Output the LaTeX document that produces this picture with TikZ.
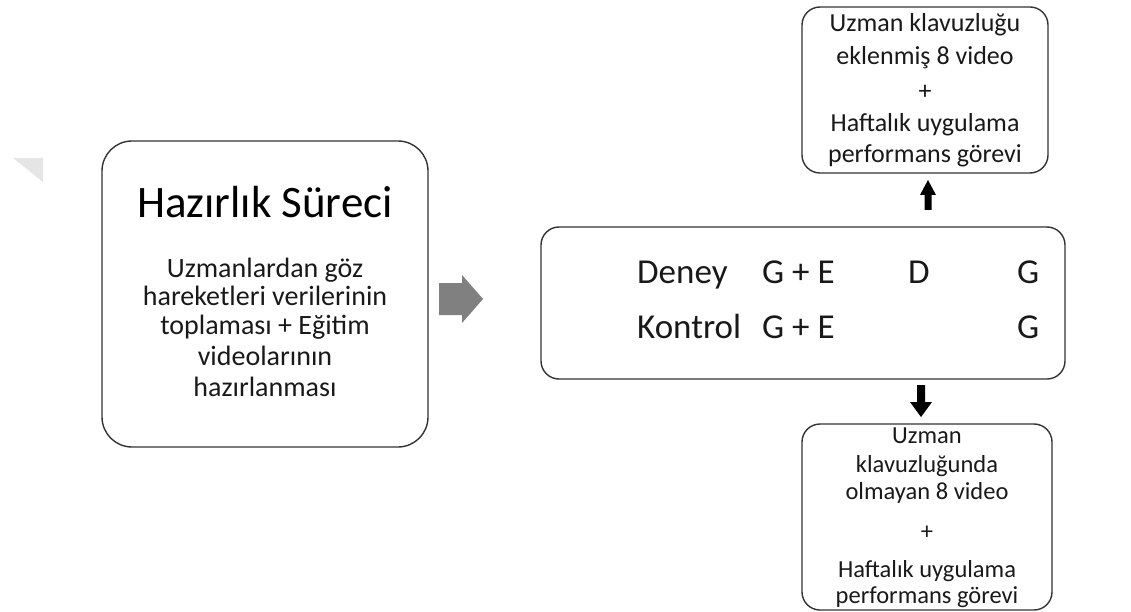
\documentclass[tikz,border=0pt]{standalone}
\usepackage{fontspec}
\setmainfont{Carlito}
\begin{document}
\begin{tikzpicture}[x=1pt,y=-1pt,
  box/.style={draw=black!80, line width=1.4pt, inner sep=0pt},
  txt/.style={anchor=base, inner sep=0pt, text=black!90},
  lefttxt/.style={txt, font=\fontsize{28}{32}\selectfont},
  toptxt/.style={txt, font=\fontsize{26}{30}\selectfont},
  bottxt/.style={txt, font=\fontsize{24.5}{28}\selectfont},
  mid/.style={txt, anchor=base west, font=\fontsize{35}{40}\selectfont}]
\useasboundingbox (0,0) rectangle (1131,612);
% faint watermark triangle
\fill[black!10] (13,158) -- (43,158) -- (43,182) -- cycle;
% left box
\node[box, rounded corners=30pt, minimum width=326pt, minimum height=306pt] (prep) at (265,294) {};
\node[txt, font=\fontsize{45}{52}\selectfont, text=black] (title) at (265,218) {Hazırlık Süreci};
\node[lefttxt] (p1) at (265,277) {Uzmanlardan göz};
\node[lefttxt] (p2) at (265,305) {hareketleri verilerinin};
\node[lefttxt] (p3) at (265,334) {toplaması + Eğitim};
\node[lefttxt] (p4) at (265,365) {videolarının};
\node[lefttxt] (p5) at (265,396) {hazırlanması};
% gray block arrow
\fill[black!50] (439,283) -- (462,283) -- (462,275) -- (483,299) -- (462,323) -- (462,315) -- (439,315) -- cycle;
% middle box
\node[box, rounded corners=18pt, minimum width=524pt, minimum height=152pt] (design) at (803,303) {};
\node[mid] (d1) at (637,283) {Deney};
\node[mid] (d2) at (762,283) {G + E};
\node[mid] (d3) at (908,283) {D};
\node[mid] (d4) at (1017,283) {G};
\node[mid] (k1) at (637,338) {Kontrol};
\node[mid] (k2) at (762,338) {G + E};
\node[mid] (k4) at (1017,338) {G};
% top box
\node[box, rounded corners=18pt, minimum width=246pt, minimum height=166pt] (top) at (925,90) {};
\node[toptxt] (t1) at (925,32) {Uzman klavuzluğu};
\node[toptxt] (t2) at (925,65) {eklenmiş 8 video};
\node[toptxt] (t3) at (925,100) {+};
\node[toptxt] (t4) at (925,132) {Haftalık uygulama};
\node[toptxt] (t5) at (925,163) {performans görevi};
% up arrow
\fill[black] (924.5,210) -- (931.5,210) -- (931.5,195) -- (936,195) -- (928,180) -- (920,195) -- (924.5,195) -- cycle;
% bottom box
\node[box, rounded corners=18pt, minimum width=250pt, minimum height=186pt] (bot) at (927,517) {};
\node[bottxt] (b1) at (927,443) {Uzman};
\node[bottxt] (b2) at (927,472) {klavuzluğunda};
\node[bottxt] (b3) at (927,499) {olmayan 8 video};
\node[bottxt] (b4) at (927,539) {+};
\node[bottxt] (b5) at (927,577) {Haftalık uygulama};
\node[bottxt] (b6) at (927,603) {performans görevi};
% down arrow
\fill[black] (917,385) -- (925,385) -- (925,402) -- (932,402) -- (921,417) -- (910,402) -- (917,402) -- cycle;
\end{tikzpicture}
\end{document}
